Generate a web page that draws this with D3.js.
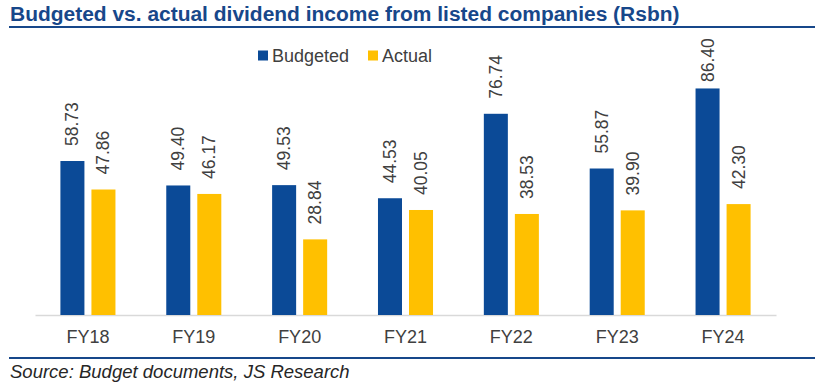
<!DOCTYPE html>
<html><head><meta charset="utf-8">
<script src="https://cdn.jsdelivr.net/npm/d3@7"></script>
<style>
html,body{margin:0;padding:0;background:#fff;}
svg{display:block;font-family:"Liberation Sans",Arial,sans-serif;}
</style></head>
<body>
<svg id="chart" width="825" height="382"></svg>
<script>
const categories = ["FY18","FY19","FY20","FY21","FY22","FY23","FY24"];
const budgeted = [58.73, 49.40, 49.53, 44.53, 76.74, 55.87, 86.40];
const actual = [47.86, 46.17, 28.84, 40.05, 38.53, 39.90, 42.30];
const seriesNames = ["Budgeted","Actual"];
const titleText = "Budgeted vs. actual dividend income from listed companies (Rsbn)";
const sourceText = "Source: Budget documents, JS Research";

const colors = {Budgeted:"#0b4a97", Actual:"#ffc000"};
const darkBlue = "#17478a";
const svg = d3.select("#chart");

// Title
const title = svg.append("text").attr("x",10).attr("y",21)
  .attr("font-weight","bold").attr("font-size",20).attr("fill",darkBlue).text(titleText);
let tl = title.node().getComputedTextLength();
title.attr("font-size", 20*670/tl);
svg.append("line").attr("x1",9).attr("x2",815).attr("y1",27).attr("y2",27)
  .attr("stroke",darkBlue).attr("stroke-width",2);

// Scales
const x0 = d3.scaleBand().domain(categories).range([35,776]).paddingInner(0.48).paddingOuter(0.24);
const groupW = x0.bandwidth();
const x1 = d3.scaleBand().domain(seriesNames).range([0,groupW]).paddingInner(0.226);
const y = d3.scaleLinear().domain([0,100]).range([315,52.8]);

const rows = categories.map((c,i)=>({cat:c, Budgeted:budgeted[i], Actual:actual[i]}));

// Axis
const xAxis = d3.axisBottom(x0).tickSize(0).tickPadding(15);
const gx = svg.append("g").attr("transform","translate(0,315)").call(xAxis);
gx.select(".domain").attr("stroke","#d9d9d9").attr("stroke-width",1.5);
gx.selectAll("text").attr("font-size",18).attr("fill","#404040")
  .attr("font-family","'Liberation Sans',Arial,sans-serif");

// Bars
const groups = svg.append("g").selectAll("g").data(rows).join("g")
  .attr("transform", d=>`translate(${x0(d.cat)},0)`);
groups.selectAll("rect").data(d=>seriesNames.map(s=>({s, v:d[s]}))).join("rect")
  .attr("x", d=>x1(d.s)).attr("width", x1.bandwidth())
  .attr("y", d=>y(d.v)).attr("height", d=>y(0)-y(d.v))
  .attr("fill", d=>colors[d.s]);

// Labels (rotated)
const labelLen = 44, plotTop = 38;
groups.selectAll("text.lbl").data(d=>seriesNames.map(s=>({s, v:d[s]}))).join("text")
  .attr("class","lbl")
  .attr("font-size",17.5).attr("fill","#404040")
  .attr("dominant-baseline","central")
  .attr("transform", d=>{
    const cx = x1(d.s)+x1.bandwidth()/2;
    const by = Math.max(y(d.v)-15, plotTop+labelLen);
    return `translate(${cx},${by}) rotate(-90)`;
  })
  .text(d=>d.v.toFixed(2));

// Legend
const legend = svg.append("g");
const legX = [258, 368];
seriesNames.forEach((s,i)=>{
  legend.append("rect").attr("x",legX[i]).attr("y",50.5).attr("width",10).attr("height",10).attr("fill",colors[s]);
  legend.append("text").attr("x",legX[i]+14).attr("y",62).attr("font-size",18).attr("fill","#404040").text(s);
});

// Bottom rule and source
svg.append("line").attr("x1",9).attr("x2",815).attr("y1",358).attr("y2",358)
  .attr("stroke",darkBlue).attr("stroke-width",2);
const src = svg.append("text").attr("x",10).attr("y",378).attr("font-style","italic")
  .attr("font-size",18).attr("fill","#262626").text(sourceText);
let sl = src.node().getComputedTextLength();
src.attr("font-size", 18*340/sl);
</script>
</body></html>
